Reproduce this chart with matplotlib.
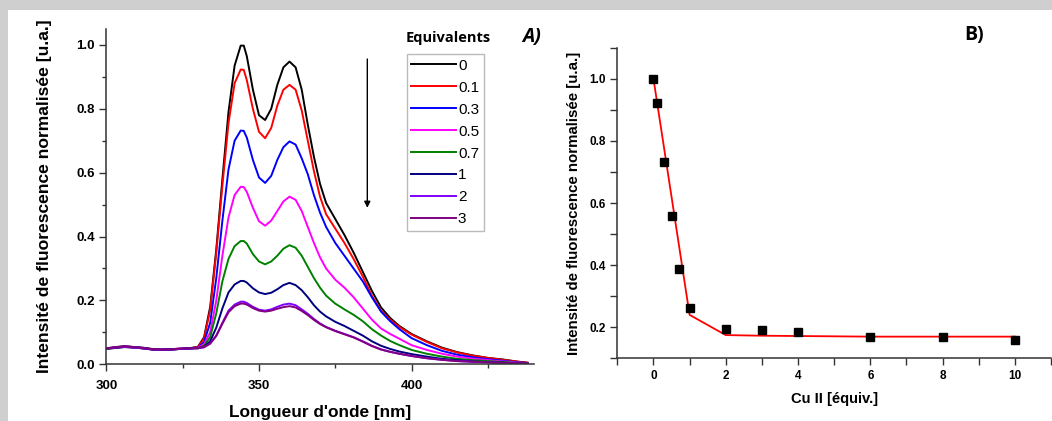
import numpy as np
import matplotlib.pyplot as plt
from matplotlib.patches import Rectangle
from matplotlib.ticker import MultipleLocator

plt.rcParams['font.family'] = ['Liberation Sans', 'DejaVu Sans']

# ------------------------------------------------------------------
# Panel A: emission spectra (wavelength in nm, normalised intensity)
# ------------------------------------------------------------------
wavelength = [300, 303, 306, 309, 312, 315, 318, 321, 324, 327,
              330, 332, 334, 336, 338, 340, 342, 344, 345, 346, 348, 350,
              352, 354, 356, 358, 360, 362, 364, 366, 368, 370, 372, 375,
              378, 381, 384, 387, 390, 393, 396, 400,
              405, 410, 415, 420, 425, 430, 435, 438]

eq_labels = ['0', '0.1', '0.3', '0.5', '0.7', '1', '2', '3']
eq_colors = ['#000000', '#ff0000', '#0000ff', '#ff00ff', '#008000',
             '#000080', '#8000ff', '#800080']

spec_0 = [0.050, 0.054, 0.057, 0.054, 0.052, 0.048, 0.046, 0.047, 0.049, 0.050,
          0.055, 0.085, 0.180, 0.360, 0.580, 0.790, 0.935, 0.998, 0.998, 0.965, 0.860, 0.780,
          0.765, 0.800, 0.875, 0.930, 0.948, 0.930, 0.860, 0.750, 0.650, 0.565, 0.505, 0.455,
          0.405, 0.350, 0.290, 0.230, 0.178, 0.145, 0.120, 0.095,
          0.072, 0.052, 0.038, 0.028, 0.020, 0.015, 0.008, 0.005]
spec_01 = [0.048, 0.052, 0.055, 0.053, 0.051, 0.047, 0.045, 0.046, 0.048, 0.049,
           0.054, 0.082, 0.170, 0.350, 0.560, 0.755, 0.880, 0.923, 0.922, 0.890, 0.800, 0.728,
           0.708, 0.740, 0.810, 0.860, 0.875, 0.860, 0.795, 0.700, 0.605, 0.525, 0.470, 0.425,
           0.380, 0.330, 0.275, 0.215, 0.168, 0.140, 0.117, 0.093,
           0.070, 0.050, 0.037, 0.027, 0.020, 0.014, 0.008, 0.005]
spec_03 = [0.049, 0.053, 0.055, 0.054, 0.051, 0.047, 0.045, 0.046, 0.048, 0.050,
           0.052, 0.070, 0.130, 0.270, 0.450, 0.610, 0.700, 0.732, 0.731, 0.710, 0.640, 0.585,
           0.568, 0.590, 0.640, 0.680, 0.698, 0.688, 0.645, 0.595, 0.530, 0.475, 0.430, 0.380,
           0.340, 0.300, 0.260, 0.210, 0.165, 0.135, 0.110, 0.082,
           0.060, 0.042, 0.030, 0.022, 0.016, 0.011, 0.006, 0.004]
spec_05 = [0.050, 0.053, 0.056, 0.053, 0.050, 0.047, 0.046, 0.047, 0.049, 0.050,
           0.052, 0.063, 0.100, 0.200, 0.340, 0.460, 0.530, 0.556, 0.555, 0.540, 0.490, 0.448,
           0.434, 0.450, 0.480, 0.510, 0.525, 0.515, 0.480, 0.430, 0.380, 0.335, 0.300, 0.265,
           0.240, 0.210, 0.175, 0.140, 0.112, 0.095, 0.080, 0.060,
           0.045, 0.033, 0.024, 0.018, 0.013, 0.009, 0.005, 0.003]
spec_07 = [0.048, 0.051, 0.054, 0.052, 0.050, 0.046, 0.045, 0.046, 0.048, 0.049,
           0.050, 0.058, 0.085, 0.160, 0.260, 0.330, 0.370, 0.386, 0.386, 0.378, 0.345, 0.322,
           0.313, 0.322, 0.340, 0.362, 0.373, 0.365, 0.340, 0.305, 0.270, 0.240, 0.215, 0.190,
           0.172, 0.155, 0.135, 0.110, 0.090, 0.073, 0.060, 0.045,
           0.033, 0.024, 0.017, 0.013, 0.010, 0.007, 0.004, 0.003]
spec_1 = [0.050, 0.052, 0.055, 0.053, 0.050, 0.047, 0.046, 0.047, 0.048, 0.050,
          0.051, 0.055, 0.072, 0.115, 0.175, 0.225, 0.250, 0.261, 0.261, 0.256, 0.238, 0.225,
          0.220, 0.224, 0.235, 0.248, 0.255, 0.248, 0.232, 0.210, 0.185, 0.165, 0.150, 0.133,
          0.120, 0.105, 0.090, 0.072, 0.058, 0.048, 0.040, 0.032,
          0.024, 0.017, 0.013, 0.009, 0.007, 0.005, 0.003, 0.002]
spec_2 = [0.049, 0.052, 0.054, 0.052, 0.050, 0.046, 0.045, 0.046, 0.048, 0.049,
          0.050, 0.053, 0.065, 0.090, 0.130, 0.168, 0.187, 0.196, 0.196, 0.192, 0.180, 0.171,
          0.168, 0.172, 0.180, 0.187, 0.190, 0.185, 0.172, 0.158, 0.142, 0.128, 0.117, 0.105,
          0.095, 0.085, 0.072, 0.058, 0.047, 0.039, 0.033, 0.026,
          0.019, 0.014, 0.010, 0.008, 0.006, 0.004, 0.003, 0.002]
spec_3 = [0.050, 0.053, 0.056, 0.054, 0.051, 0.047, 0.046, 0.047, 0.049, 0.050,
          0.051, 0.054, 0.065, 0.089, 0.127, 0.163, 0.182, 0.190, 0.190, 0.187, 0.176, 0.168,
          0.165, 0.168, 0.174, 0.179, 0.182, 0.178, 0.167, 0.154, 0.139, 0.126, 0.116, 0.104,
          0.094, 0.084, 0.071, 0.057, 0.046, 0.039, 0.033, 0.026,
          0.019, 0.014, 0.010, 0.008, 0.006, 0.004, 0.003, 0.002]

spectra = [spec_0, spec_01, spec_03, spec_05, spec_07, spec_1, spec_2, spec_3]

# ------------------------------------------------------------------
# Panel B: titration curve
# ------------------------------------------------------------------
cu_equiv = [0, 0.1, 0.3, 0.5, 0.7, 1, 2, 3, 4, 6, 8, 10]
intensity = [1.0, 0.923, 0.733, 0.557, 0.387, 0.263, 0.195, 0.190, 0.185, 0.168, 0.168, 0.160]
fit_curve = [1.0, 0.924, 0.772, 0.620, 0.468, 0.240, 0.175, 0.173, 0.172, 0.170, 0.170, 0.170]


fig = plt.figure(figsize=(10.52, 4.21), dpi=100)
fig.patch.set_facecolor('#cfcfcf')
fig.patches.append(Rectangle((8 / 1052, 0), 1 - 8 / 1052, 1 - 10 / 421,
                             transform=fig.transFigure, facecolor='white',
                             edgecolor='none', zorder=-10))


def style_axis(ax, labelsize):
    for side in ('top', 'right'):
        ax.spines[side].set_visible(False)
    for side in ('left', 'bottom'):
        ax.spines[side].set_linewidth(1.1)
        ax.spines[side].set_color('#333333')
    ax.tick_params(which='both', direction='out', width=1.0, color='#333333')
    ax.tick_params(which='major', length=5, labelsize=labelsize)
    ax.tick_params(which='minor', length=3)
    for lab in ax.get_xticklabels() + ax.get_yticklabels():
        lab.set_fontweight('bold')
    ax.patch.set_alpha(0)


# --- A ---
axA = fig.add_axes([0.1012, 0.1347, 0.406, 0.7964])
for vals, lab, col in zip(spectra, eq_labels, eq_colors):
    axA.plot(wavelength, vals, color=col, lw=1.4, label=lab)
axA.set_xlim(300, 440)
axA.set_ylim(0, 1.05)
axA.xaxis.set_major_locator(MultipleLocator(50))
axA.xaxis.set_minor_locator(MultipleLocator(25))
axA.yaxis.set_major_locator(MultipleLocator(0.2))
axA.yaxis.set_minor_locator(MultipleLocator(0.1))
axA.yaxis.set_major_formatter(plt.FormatStrFormatter('%.1f'))
style_axis(axA, 9.5)
axA.tick_params(axis='x', which='major', pad=6)
axA.set_xlabel("Longueur d'onde [nm]", fontsize=12.4, fontweight='bold', labelpad=10)
axA.set_ylabel('Intensité de fluorescence normalisée [u.a.]', fontsize=12.6,
               fontweight='bold', labelpad=17)

axA.annotate('', xy=(385.5, 0.49), xytext=(385.5, 0.956),
             arrowprops=dict(arrowstyle='-|>', color='black', lw=1.0,
                             mutation_scale=9, shrinkA=0, shrinkB=0))

leg = axA.legend(loc='upper left', bbox_to_anchor=(0.703, 0.925), fontsize=11,
                 frameon=True, fancybox=False, handlelength=2.9,
                 handletextpad=0.15, labelspacing=0.52, borderpad=0.3,
                 borderaxespad=0)
leg.get_frame().set_edgecolor('#aaaaaa')
leg.get_frame().set_linewidth(1.0)

fig.text(448 / 1052, 1 - 38 / 421, 'Equivalents', fontsize=10.5, fontweight='bold',
         ha='center', va='center', family=['Open Sans', 'DejaVu Sans'])
fig.text(532 / 1052, 1 - 37 / 421, 'A)', fontsize=14, fontweight='bold', style='italic',
         ha='center', va='center', family=['Open Sans', 'DejaVu Sans'])

# --- B ---
axB = fig.add_axes([0.5868, 0.1487, 0.4123, 0.7382])
axB.plot(cu_equiv, fit_curve, color='#ff0000', lw=1.3, zorder=2)
axB.plot(cu_equiv, intensity, ls='none', marker='s', ms=5.5, color='black', zorder=3)
axB.set_xlim(-1, 11)
axB.set_ylim(0.1, 1.1)
axB.set_xticks([0, 2, 4, 6, 8, 10])
axB.set_xticks([-1, 1, 3, 5, 7, 9, 11], minor=True)
axB.set_yticks([0.2, 0.4, 0.6, 0.8, 1.0])
axB.set_yticks([0.1, 0.3, 0.5, 0.7, 0.9, 1.1], minor=True)
axB.yaxis.set_major_formatter(plt.FormatStrFormatter('%.1f'))
style_axis(axB, 8.5)
axB.tick_params(which='minor', length=5)
axB.set_xlabel('Cu II [équiv.]', fontsize=10.6, fontweight='bold', labelpad=7)
axB.set_ylabel('Intensité de fluorescence normalisée [u.a.]', fontsize=10.8,
               fontweight='bold', labelpad=6)

fig.text(974 / 1052, 1 - 35 / 421, 'B)', fontsize=14, fontweight='bold',
         ha='center', va='center', family=['Open Sans', 'DejaVu Sans'])

fig.savefig('out.png', dpi=100, facecolor=fig.get_facecolor())
